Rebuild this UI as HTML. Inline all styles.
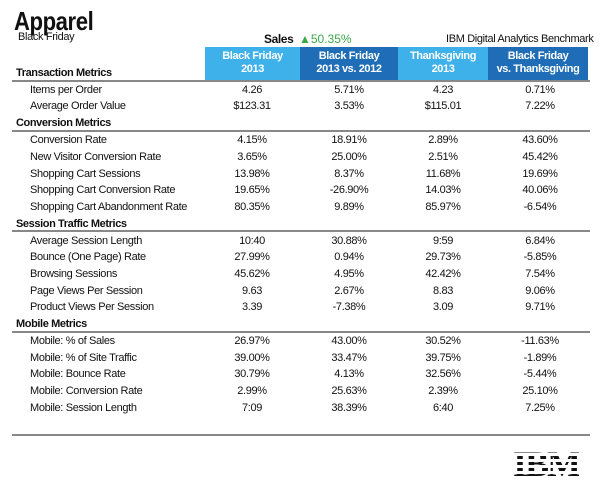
<!DOCTYPE html>
<html><head><meta charset="utf-8"><style>
body{margin:0;width:600px;height:489px;background:#fff;position:relative;overflow:hidden;font-family:"Liberation Sans",sans-serif;color:#111}
.a{position:absolute;white-space:nowrap}
.t{font-size:11px;letter-spacing:-0.35px}
.c{position:absolute;width:100px;text-align:center;font-size:11px;letter-spacing:-0.35px;white-space:nowrap}
.h{position:absolute;font-size:11px;font-weight:bold;letter-spacing:-0.4px;left:16px}
.line{position:absolute;left:12px;width:578px;height:2px;background:#888}
.hd{position:absolute;top:47px;height:33px;color:#fff;font-weight:bold;font-size:11px;letter-spacing:-0.4px;text-align:center;line-height:13px;padding-top:3px;box-sizing:border-box}
</style></head><body>
<div class="a" style="left:14px;top:6px;font-size:26px;font-weight:bold;letter-spacing:-0.5px;transform:scaleX(0.85);transform-origin:left">Apparel</div>
<div class="a t" style="left:18px;top:31px">Black Friday</div>
<div class="a" style="left:264px;top:32px;font-size:12px;font-weight:bold;letter-spacing:-0.4px">Sales</div>
<div class="a" style="left:299px;top:32px;font-size:12px;color:#3aa845">▲50.35%</div>
<div class="a t" style="left:446px;top:33px">IBM Digital Analytics Benchmark</div>
<div class="hd" style="left:205px;width:95px;background:#3fb1ea">Black Friday<br>2013</div>
<div class="hd" style="left:300px;width:98px;background:#1e6db6">Black Friday<br>2013 vs. 2012</div>
<div class="hd" style="left:398px;width:90px;background:#3fb1ea">Thanksgiving<br>2013</div>
<div class="hd" style="left:488px;width:100px;background:#1e6db6">Black Friday<br>vs. Thanksgiving</div>
<div class="h" style="top:67px">Transaction Metrics</div>
<div class="line" style="top:80px"></div>
<div id="rows"></div>
<div class="line" style="top:434px"></div>
<div class="a" style="left:513px;top:447px;width:66px;height:34px;overflow:hidden">
<div style="font-family:'Liberation Serif',serif;font-weight:bold;font-size:36px;letter-spacing:-2px;line-height:34px;transform:scaleX(1.0);transform-origin:left">IBM</div>
<div style="position:absolute;left:0;top:0;width:66px;height:34px;background:repeating-linear-gradient(#fff 0 3px,transparent 3px 6px)"></div>
</div>
<script>
const d=[
[84,"Items per Order","4.26","5.71%","4.23","0.71%"],
[100,"Average Order Value","$123.31","3.53%","$115.01","7.22%"],
[117,"H","Conversion Metrics",130],
[134,"Conversion Rate","4.15%","18.91%","2.89%","43.60%"],
[151,"New Visitor Conversion Rate","3.65%","25.00%","2.51%","45.42%"],
[168,"Shopping Cart Sessions","13.98%","8.37%","11.68%","19.69%"],
[184,"Shopping Cart Conversion Rate","19.65%","-26.90%","14.03%","40.06%"],
[201,"Shopping Cart Abandonment Rate","80.35%","9.89%","85.97%","-6.54%"],
[218,"H","Session Traffic Metrics",230],
[235,"Average Session Length","10:40","30.88%","9:59","6.84%"],
[251,"Bounce (One Page) Rate","27.99%","0.94%","29.73%","-5.85%"],
[268,"Browsing Sessions","45.62%","4.95%","42.42%","7.54%"],
[285,"Page Views Per Session","9.63","2.67%","8.83","9.06%"],
[301,"Product Views Per Session","3.39","-7.38%","3.09","9.71%"],
[318,"H","Mobile Metrics",331],
[335,"Mobile: % of Sales","26.97%","43.00%","30.52%","-11.63%"],
[352,"Mobile: % of Site Traffic","39.00%","33.47%","39.75%","-1.89%"],
[368,"Mobile: Bounce Rate","30.79%","4.13%","32.56%","-5.44%"],
[385,"Mobile: Conversion Rate","2.99%","25.63%","2.39%","25.10%"],
[402,"Mobile: Session Length","7:09","38.39%","6:40","7.25%"]];
let h="";const cx=[252,349,443,540];
for(const r of d){
 if(r[1]=="H"){h+=`<div class="h" style="top:${r[0]}px">${r[2]}</div><div class="line" style="top:${r[3]}px"></div>`;continue;}
 h+=`<div class="a t" style="left:30px;top:${r[0]}px">${r[1]}</div>`;
 for(let i=0;i<4;i++)h+=`<div class="c" style="left:${cx[i]-50}px;top:${r[0]}px">${r[i+2]}</div>`;
}
document.getElementById("rows").innerHTML=h;
</script>
</body></html>
